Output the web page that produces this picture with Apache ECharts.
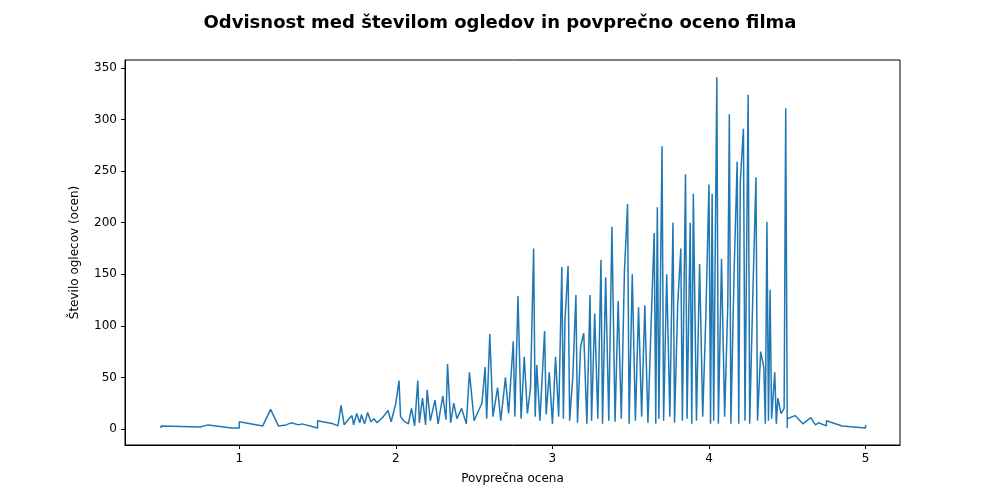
<!DOCTYPE html>
<html>
<head>
<meta charset="utf-8">
<script src="https://cdn.jsdelivr.net/npm/echarts@6/dist/echarts.min.js"></script>
</head>
<body style="margin:0">
<div id="chart" style="width:1000px;height:500px"></div>
<script>
// povprečna ocena (x) in število ocen (y)
var ocena = [0.5,0.5,0.75,0.8,0.95,1.0,1.0,1.15,1.2,1.25,1.3,1.33,1.38,1.4,1.5,1.5,1.6,1.63,1.65,1.67,1.7,1.72,1.73,1.75,1.77,1.78,1.8,1.82,1.84,1.86,1.88,1.9,1.92,1.95,1.97,2.0,2.02,2.03,2.05,2.08,2.1,2.12,2.14,2.15,2.17,2.19,2.2,2.22,2.25,2.27,2.3,2.32,2.33,2.35,2.37,2.39,2.42,2.45,2.47,2.5,2.52,2.55,2.57,2.58,2.6,2.62,2.65,2.67,2.7,2.72,2.75,2.76,2.78,2.8,2.82,2.84,2.86,2.88,2.89,2.9,2.92,2.95,2.96,2.98,3.0,3.02,3.04,3.06,3.07,3.08,3.1,3.11,3.13,3.15,3.16,3.18,3.2,3.22,3.24,3.25,3.27,3.29,3.31,3.32,3.34,3.36,3.38,3.4,3.42,3.44,3.46,3.48,3.49,3.51,3.53,3.55,3.57,3.59,3.61,3.63,3.65,3.66,3.67,3.68,3.7,3.71,3.73,3.75,3.77,3.78,3.8,3.82,3.83,3.85,3.86,3.88,3.89,3.9,3.92,3.94,3.96,3.98,4.0,4.01,4.02,4.03,4.05,4.06,4.08,4.1,4.12,4.13,4.14,4.16,4.18,4.19,4.2,4.22,4.23,4.25,4.26,4.28,4.3,4.31,4.33,4.35,4.36,4.37,4.38,4.39,4.4,4.42,4.43,4.44,4.46,4.48,4.49,4.5,4.5,4.55,4.6,4.65,4.68,4.7,4.75,4.75,4.85,5.0,5.0];
var stevilo = [1,3,2,4,1,1,7,3,19,3,4,6,4,5,1,8,5,3,23,4,10,13,4,15,6,14,5,16,7,10,6,9,12,18,7,25,47,12,8,5,20,3,47,6,30,4,38,8,28,5,32,9,63,6,25,10,20,5,55,8,15,25,60,10,92,12,40,8,50,15,85,12,129,10,70,15,40,175,12,62,8,95,14,55,5,70,12,157,10,105,158,8,50,130,6,80,93,5,130,8,112,10,164,5,147,8,196,7,124,10,153,218,5,150,8,118,12,120,6,100,190,5,215,10,274,8,150,12,200,6,120,175,8,247,10,200,5,228,8,160,12,110,237,5,228,8,341,5,165,12,120,305,5,150,259,5,240,291,8,324,5,130,244,8,75,60,5,201,8,135,10,55,5,30,15,20,311,1,10,13,5,11,4,6,3,8,3,1,4];
var xTicks = [1,2,3,4,5];
var yTicks = [0,50,100,150,200,250,300,350];

var points = ocena.map(function (v, i) { return [v, stevilo[i]]; });
var font = 'DejaVu Sans';
var chart = echarts.init(document.getElementById('chart'));
chart.setOption({
    animation: false,
    textStyle: { fontFamily: font },
    title: {
        text: 'Odvisnost med številom ogledov in povprečno oceno filma',
        left: 'center', top: 9,
        textStyle: { fontFamily: font, fontSize: 18, fontWeight: 'bold', color: '#000' }
    },
    grid: { left: 125, right: 100, top: 60, bottom: 55, show: true, borderColor: '#000', borderWidth: 1 },
    xAxis: {
        type: 'value', min: 0.27, max: 5.22,
        name: 'Povprečna ocena', nameLocation: 'middle', nameGap: 28,
        nameTextStyle: { fontFamily: font, fontSize: 12, color: '#000' },
        splitLine: { show: false },
        axisLine: { onZero: false, lineStyle: { color: '#000' } },
        axisTick: { customValues: xTicks, length: 4, lineStyle: { color: '#000' } },
        axisLabel: { customValues: xTicks, fontSize: 12, color: '#000', fontFamily: font }
    },
    yAxis: {
        type: 'value', min: -15.5, max: 357.7,
        name: 'Število oglecov (ocen)', nameLocation: 'middle', nameGap: 44,
        nameTextStyle: { fontFamily: font, fontSize: 12, color: '#000' },
        splitLine: { show: false },
        axisLine: { show: true, onZero: false, lineStyle: { color: '#000' } },
        axisTick: { show: true, customValues: yTicks, length: 4, lineStyle: { color: '#000' } },
        axisLabel: { customValues: yTicks, fontSize: 12, color: '#000', fontFamily: font }
    },
    series: [{
        type: 'line', data: points, showSymbol: false,
        lineStyle: { color: '#1f77b4', width: 1.5 }
    }]
});
</script>
</body>
</html>
